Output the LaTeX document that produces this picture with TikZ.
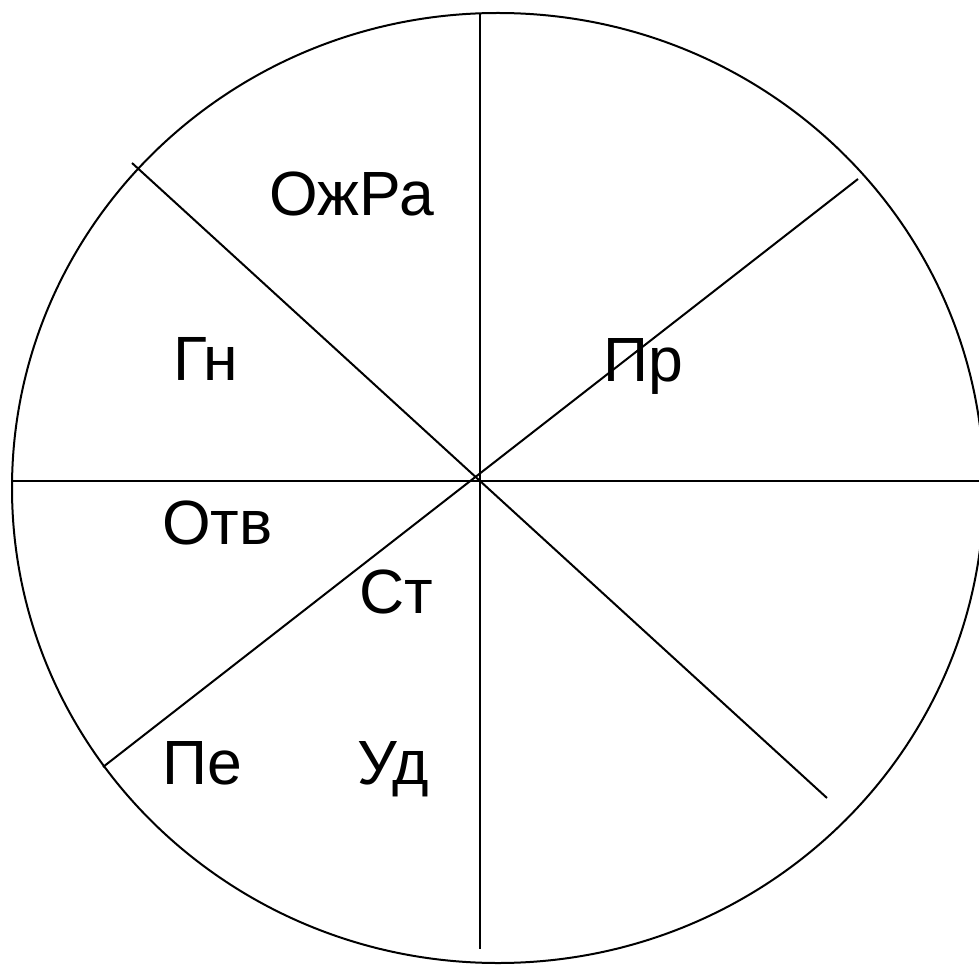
\documentclass[tikz,border=0pt]{standalone}
\usepackage{fontspec}
\setmainfont{Liberation Sans}
\begin{document}
\begin{tikzpicture}[x=1pt,y=-1pt,
  edge/.style={line width=2pt,draw=black},
  lbl/.style={anchor=base west,inner sep=0pt,font=\fontsize{62.5}{62.5}\selectfont}]
\useasboundingbox (0,0) rectangle (979,965);
\draw[edge] (498,488) ellipse [x radius=486, y radius=475];
\coordinate (vt) at (480,13);
\coordinate (vb) at (480,949);
\coordinate (hl) at (12,481);
\coordinate (hr) at (979,481);
\coordinate (d1a) at (132,163);
\coordinate (d1b) at (827,798);
\coordinate (d2a) at (103,767);
\coordinate (d2b) at (858,179);
\draw[edge] (vt) -- (vb);
\draw[edge] (hl) -- (hr);
\draw[edge] (d1a) -- (d1b);
\draw[edge] (d2a) -- (d2b);
\node[lbl] (ozhra) at (269,216) {ОжРа};
\node[lbl] (gn) at (173,380) {Гн};
\node[lbl] (pr) at (603,381) {Пр};
\node[lbl] (otv) at (162,544) {Отв};
\node[lbl] (st) at (359,613) {Ст};
\node[lbl] (pe) at (162,784) {Пе};
\node[lbl] (ud) at (357,784) {Уд};
\end{tikzpicture}
\end{document}
